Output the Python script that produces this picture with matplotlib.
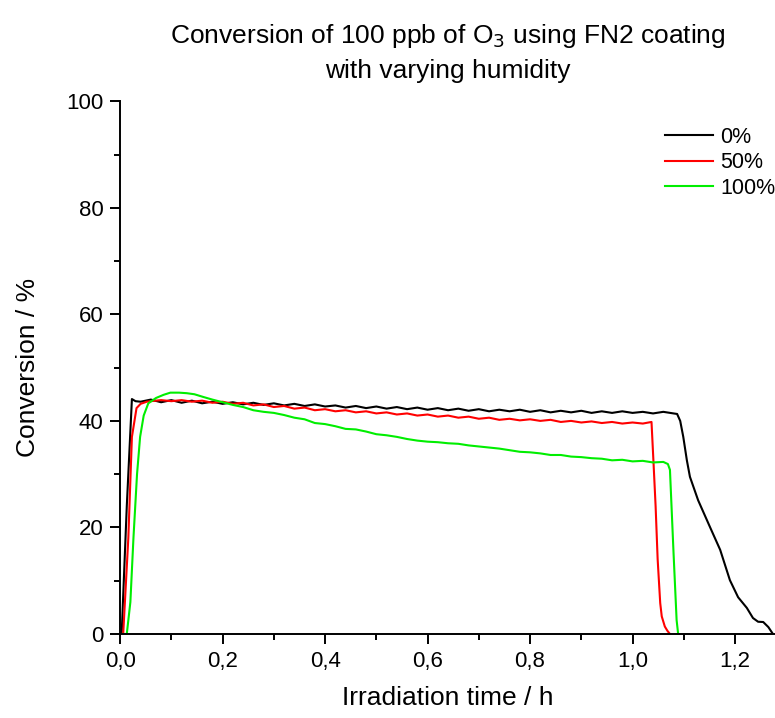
import numpy as np
import matplotlib
matplotlib.use("Agg")
import matplotlib.pyplot as plt
from matplotlib.ticker import MultipleLocator, FuncFormatter

plt.rcParams['font.family'] = ['Liberation Sans', 'DejaVu Sans']

# 0 % humidity
t_0 = [0.0, 0.003, 0.013, 0.023, 0.03,
       0.04, 0.06, 0.08, 0.10, 0.12, 0.14, 0.16, 0.18, 0.20, 0.22, 0.24, 0.26,
       0.28, 0.30, 0.32, 0.34, 0.36, 0.38, 0.40, 0.42, 0.44, 0.46, 0.48, 0.50,
       0.52, 0.54, 0.56, 0.58, 0.60, 0.62, 0.64, 0.66, 0.68, 0.70, 0.72, 0.74,
       0.76, 0.78, 0.80, 0.82, 0.84, 0.86, 0.88, 0.90, 0.92, 0.94, 0.96, 0.98,
       1.00, 1.02, 1.04, 1.06, 1.08,
       1.087, 1.093, 1.099, 1.106, 1.112, 1.128, 1.151, 1.171, 1.19, 1.206,
       1.223, 1.235, 1.245, 1.255, 1.265, 1.274]
c_0 = [0.0, 0.0, 24.0, 44.1, 43.7,
       43.6, 44.0, 43.5, 43.9, 43.4, 43.8, 43.3, 43.6, 43.2, 43.5, 43.1, 43.4,
       43.0, 43.3, 42.9, 43.2, 42.8, 43.1, 42.7, 42.9, 42.5, 42.8, 42.4, 42.7,
       42.3, 42.6, 42.2, 42.5, 42.1, 42.4, 42.0, 42.3, 41.9, 42.2, 41.8, 42.1,
       41.8, 42.1, 41.7, 42.0, 41.6, 41.9, 41.6, 41.9, 41.5, 41.8, 41.5, 41.8,
       41.5, 41.7, 41.4, 41.7, 41.4,
       41.3, 40.0, 37.0, 32.6, 29.5, 25.1, 20.1, 15.8, 10.1, 6.9,
       4.9, 3.0, 2.3, 2.25, 1.3, 0.0]

# 50 % humidity
t_50 = [0.0, 0.006, 0.016, 0.023, 0.032, 0.04, 0.052,
        0.06, 0.08, 0.10, 0.12, 0.14, 0.16, 0.18, 0.20, 0.22, 0.24, 0.26,
        0.28, 0.30, 0.32, 0.34, 0.36, 0.38, 0.40, 0.42, 0.44, 0.46, 0.48, 0.50,
        0.52, 0.54, 0.56, 0.58, 0.60, 0.62, 0.64, 0.66, 0.68, 0.70, 0.72, 0.74,
        0.76, 0.78, 0.80, 0.82, 0.84, 0.86, 0.88, 0.90, 0.92, 0.94, 0.96, 0.98,
        1.00, 1.02, 1.037,
        1.041, 1.045, 1.049, 1.054, 1.057, 1.063, 1.068, 1.073]
c_50 = [0.0, 0.0, 18.0, 37.0, 42.4, 43.2, 43.6,
        43.7, 43.9, 43.7, 43.9, 43.6, 43.8, 43.4, 43.6, 43.2, 43.4, 42.9,
        43.1, 42.6, 42.8, 42.3, 42.5, 42.0, 42.2, 41.8, 42.0, 41.6, 41.8, 41.4,
        41.6, 41.2, 41.4, 41.0, 41.2, 40.8, 41.0, 40.6, 40.8, 40.4, 40.6, 40.2,
        40.4, 40.1, 40.3, 40.0, 40.2, 39.8, 40.0, 39.7, 39.9, 39.6, 39.8, 39.5,
        39.7, 39.5, 39.8,
        32.0, 24.0, 14.0, 5.8, 3.3, 1.4, 0.6, 0.0]

# 100 % humidity
t_100 = [0.0, 0.013, 0.02, 0.026, 0.033, 0.039, 0.046, 0.055, 0.07, 0.085,
         0.098, 0.115, 0.13, 0.145, 0.162, 0.18, 0.20, 0.22, 0.24, 0.26,
         0.28, 0.30, 0.32, 0.34, 0.36, 0.38, 0.40, 0.42, 0.44, 0.46, 0.48, 0.50,
         0.52, 0.54, 0.56, 0.58, 0.60, 0.62, 0.64, 0.66, 0.68, 0.70, 0.72, 0.74,
         0.76, 0.78, 0.80, 0.82, 0.84, 0.86, 0.88, 0.90, 0.92, 0.94, 0.96, 0.98,
         1.00, 1.02, 1.04, 1.06, 1.069,
         1.073, 1.08, 1.086, 1.089]
c_100 = [0.0, 0.0, 6.0, 18.0, 30.0, 37.0, 41.0, 43.3, 44.3, 44.9,
         45.3, 45.3, 45.2, 45.0, 44.5, 44.0, 43.5, 43.0, 42.6, 42.0,
         41.7, 41.5, 41.1, 40.6, 40.3, 39.6, 39.4, 39.0, 38.5, 38.4, 38.0, 37.5,
         37.3, 37.0, 36.6, 36.3, 36.1, 36.0, 35.8, 35.7, 35.4, 35.2, 35.0, 34.8,
         34.5, 34.2, 34.1, 33.9, 33.6, 33.6, 33.3, 33.2, 33.0, 32.9, 32.6, 32.7,
         32.4, 32.5, 32.2, 32.3, 31.9,
         30.8, 15.2, 2.6, 0.0]

labels = ['0%', '50%', '100%']
colors = ['#000000', '#ff0000', '#00ee00']

fig = plt.figure(figsize=(7.75, 7.18), dpi=100)
ax = fig.add_axes([0.155, 0.117, 0.845, 0.742])

for t, c, lab, col in zip([t_0, t_50, t_100], [c_0, c_50, c_100], labels, colors):
    ax.plot(t, c, color=col, lw=1.5, label=lab)

ax.set_xlim(0, 1.278)
ax.set_ylim(0, 100)
ax.xaxis.set_major_locator(MultipleLocator(0.2))
ax.xaxis.set_minor_locator(MultipleLocator(0.1))
ax.yaxis.set_major_locator(MultipleLocator(20))
ax.yaxis.set_minor_locator(MultipleLocator(10))
ax.xaxis.set_major_formatter(FuncFormatter(lambda v, p: ('%.1f' % v).replace('.', ',')))

for s in ['top', 'right']:
    ax.spines[s].set_visible(False)
for s in ['left', 'bottom']:
    ax.spines[s].set_linewidth(1.4)
ax.tick_params(which='major', direction='out', length=7, width=1.4, labelsize=16, pad=5)
ax.tick_params(which='minor', direction='out', length=4, width=1.4)

ax.set_xlabel('Irradiation time / h', fontsize=19, labelpad=10)
ax.set_ylabel('Conversion / %', fontsize=19, labelpad=19)
ax.set_title('Conversion of 100 ppb of O$_3$ using FN2 coating\nwith varying humidity',
             fontsize=19, linespacing=1.45, pad=17)

ax.legend(loc='upper right', bbox_to_anchor=(1.03, 0.988), frameon=False, fontsize=15.5,
          handlelength=2.2, labelspacing=0.2, handletextpad=0.35)

fig.savefig('out.png', dpi=100)
